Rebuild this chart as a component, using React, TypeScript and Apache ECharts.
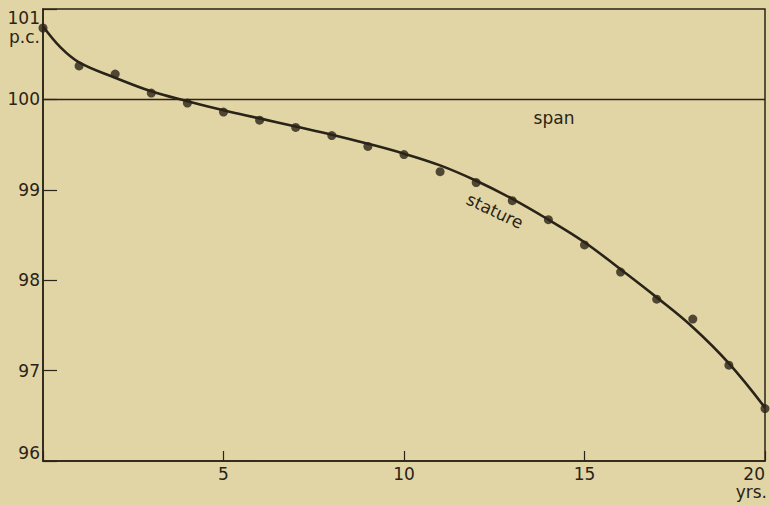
import React, { useEffect, useRef } from "react";
import * as echarts from "echarts";

const ages = [0, 1, 2, 3, 4, 5, 6, 7, 8, 9, 10, 11, 12, 13, 14, 15, 16, 17, 18, 19, 20];
const statureDots = [100.79, 100.37, 100.28, 100.07, 99.96, 99.86, 99.77, 99.69, 99.6, 99.48, 99.39, 99.2, 99.08, 98.88, 98.67, 98.39, 98.09, 97.79, 97.57, 97.06, 96.58];
const curveAges = [0, 0.5, 1, 2, 3, 4, 5, 6, 7, 8, 9, 10, 11, 12, 13, 14, 15, 16, 17, 18, 19, 20];
const statureCurve = [100.81, 100.57, 100.41, 100.24, 100.09, 99.98, 99.88, 99.79, 99.7, 99.61, 99.51, 99.4, 99.27, 99.1, 98.9, 98.67, 98.42, 98.12, 97.81, 97.48, 97.08, 96.59];
const spanX = [0, 20];
const spanY = [100, 100];
const yTicks = [96, 97, 98, 99, 100, 101];
const xTicks = [0, 5, 10, 15, 20];

const INK = "#2a2317";
const BG = "#e1d5a5";
const FONT = "DejaVu Sans";

export default function App() {
  const ref = useRef<HTMLDivElement>(null);
  useEffect(() => {
    if (!ref.current) return;
    const chart = echarts.init(ref.current, null, { renderer: "svg" });
    chart.setOption({
      animation: false,
      backgroundColor: BG,
      grid: { left: 43, right: 5, top: 9, bottom: 44, show: true, borderColor: INK, borderWidth: 1.5, backgroundColor: "transparent" },
      xAxis: {
        type: "value",
        min: xTicks[0],
        max: xTicks[xTicks.length - 1],
        interval: 5,
        axisLine: { show: true, lineStyle: { color: INK, width: 1.5 } },
        axisTick: { show: true, inside: true, length: 10, lineStyle: { color: INK, width: 1.2 } },
        splitLine: { show: false },
        axisLabel: {
          color: INK,
          fontFamily: FONT,
          fontSize: 17,
          margin: 4,
          alignMaxLabel: "right",
          formatter: (v: number) => (v === 0 ? "" : String(v)),
        },
      },
      yAxis: {
        type: "value",
        min: yTicks[0],
        max: yTicks[yTicks.length - 1],
        interval: 1,
        axisLine: { show: true, lineStyle: { color: INK, width: 1.5 } },
        axisTick: { show: true, inside: true, length: 14, lineStyle: { color: INK, width: 1.2 } },
        splitLine: { show: false },
        axisLabel: {
          color: INK,
          fontFamily: FONT,
          fontSize: 17,
          margin: 3,
          verticalAlignMaxLabel: "top",
          verticalAlignMinLabel: "bottom",
        },
      },
      series: [
        {
          name: "span",
          type: "line",
          data: spanX.map((x, i) => [x, spanY[i]]),
          symbol: "none",
          lineStyle: { color: INK, width: 1.5 },
          z: 2,
        },
        {
          name: "stature curve",
          type: "line",
          data: curveAges.map((x, i) => [x, statureCurve[i]]),
          smooth: 0.4,
          symbol: "none",
          lineStyle: { color: INK, width: 2.6 },
          z: 3,
        },
        {
          name: "stature",
          type: "scatter",
          data: ages.map((x, i) => [x, statureDots[i]]),
          symbol: "circle",
          symbolSize: 9,
          itemStyle: { color: INK },
          z: 4,
        },
      ],
      graphic: [
        { type: "text", x: 40, y: 37, style: { text: "p.c.", fill: INK, font: `17px "${FONT}"`, align: "right", verticalAlign: "middle" } },
        { type: "text", x: 767, y: 492, style: { text: "yrs.", fill: INK, font: `17px "${FONT}"`, align: "right", verticalAlign: "middle" } },
        { type: "text", x: 554, y: 118, style: { text: "span", fill: INK, font: `17px "${FONT}"`, align: "center", verticalAlign: "middle" } },
        { type: "text", x: 495, y: 211, rotation: -0.44, style: { text: "stature", fill: INK, font: `17px "${FONT}"`, align: "center", verticalAlign: "middle" } },
      ],
    });
    return () => chart.dispose();
  }, []);
  return <div ref={ref} style={{ position: "fixed", left: 0, top: 0, width: 770, height: 505 }} />;
}
